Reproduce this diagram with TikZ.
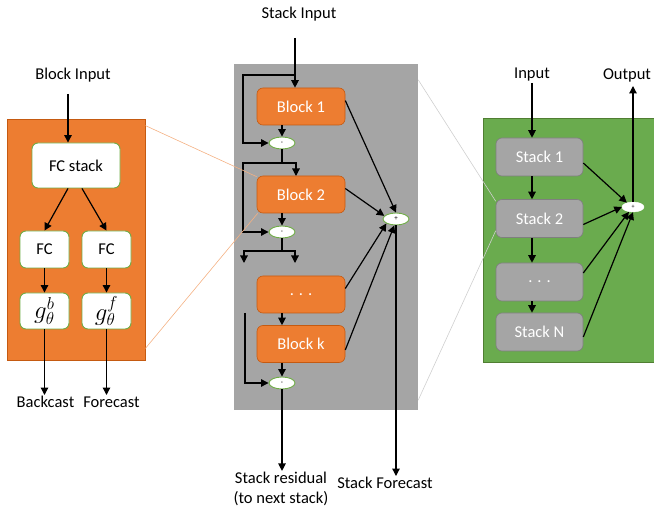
\documentclass[tikz,border=0pt]{standalone}
\usepackage{fontspec}
\setmainfont{Carlito}
\usetikzlibrary{arrows.meta,shapes.geometric}
\definecolor{orF}{HTML}{ED7D31}
\definecolor{orD}{HTML}{C55A11}
\definecolor{orL}{HTML}{F4B183}
\definecolor{grnF}{HTML}{6AAB4E}
\definecolor{grnD}{HTML}{507E32}
\definecolor{grnB}{HTML}{70AD47}
\definecolor{gryF}{HTML}{A5A5A5}
\definecolor{gryD}{HTML}{7F7F7F}
\definecolor{gryL}{HTML}{CFCFCF}
\begin{document}
\begin{tikzpicture}[x=1pt,y=-1pt,
  lab/.style={font=\fontsize{16.5}{20}\selectfont, inner sep=1pt},
  wbox/.style={draw=grnB, fill=white, rounded corners=6pt, line width=0.9pt, font=\fontsize{16.5}{18}\selectfont, inner sep=0pt},
  obox/.style={draw=orD, fill=orF, rounded corners=6pt, line width=0.6pt, text=white, font=\fontsize{16.5}{18}\selectfont, minimum width=88pt, minimum height=37pt, inner sep=0pt},
  gbox/.style={draw=gryD, fill=gryF, rounded corners=6pt, line width=0.6pt, text=white, font=\fontsize{16.5}{18}\selectfont, minimum width=87pt, minimum height=38pt, inner sep=0pt},
  op/.style={ellipse, draw=grnB, fill=white, line width=0.9pt, minimum width=26pt, minimum height=12pt, inner sep=0pt, font=\fontsize{7}{7}\selectfont},
  arr/.style={-{Triangle[length=7.5pt,width=7.5pt]}, line width=1.2pt},
  ln/.style={line width=1.2pt}
]
\useasboundingbox (0,0) rectangle (654,513);
% panels
\node[draw=orD, fill=orF, line width=0.8pt, minimum width=138pt, minimum height=241pt, inner sep=0pt] (lp) at (76,239.5) {};
\node[fill=gryF, minimum width=184pt, minimum height=346pt, inner sep=0pt] (mp) at (326,237) {};
\node[draw=grnD, fill=grnF, line width=0.8pt, minimum width=177pt, minimum height=244pt, inner sep=0pt] (rp) at (571.5,240) {};

% ---------- left block ----------
\node[lab] (bi) at (73,75) {Block Input};
\node[wbox, minimum width=88pt, minimum height=45pt] (fcs) at (76,165.5) {FC stack};
\node[wbox, minimum width=49pt, minimum height=37pt] (fcl) at (44.5,249.5) {FC};
\node[wbox, minimum width=49pt, minimum height=37pt] (fcr) at (106.5,249.5) {FC};
\node[wbox, minimum width=49pt, minimum height=36pt, font=\fontsize{24}{26}\selectfont] (gb) at (44.5,311) {$g^{b}_{\theta}$};
\node[wbox, minimum width=49pt, minimum height=36pt, font=\fontsize{24}{26}\selectfont] (gf) at (106.5,311) {$g^{f}_{\theta}$};
\node[lab] (bc) at (45.5,402) {Backcast};
\node[lab] (fc) at (111.5,402) {Forecast};
\coordinate (bia) at (68,94);
\draw[arr] (bia) -- (bia |- fcs.north);
\draw[arr] ([xshift=-8pt]fcs.south) -- (fcl.north);
\draw[arr] ([xshift=6pt]fcs.south) -- (fcr.north);
\draw[arr] (fcl.south) -- (gb.north);
\draw[arr] (fcr.south) -- (gf.north);
\draw[arr] (gb.south) -- (gb.south |- bc.north);
\draw[arr] (gf.south) -- (gf.south |- bc.north);

% ---------- middle stack ----------
\node[lab] (si) at (299,14) {Stack Input};
\node[obox] (b1) at (301,106.5) {Block 1};
\node[op] (m1) at (282,143) {-};
\node[obox] (b2) at (301,194.5) {Block 2};
\node[op] (m2) at (282,232) {-};
\node[obox] (bd) at (301,294.5) {. . .};
\node[obox] (bk) at (301,344) {Block k};
\node[op] (mk) at (282,383) {-};
\node[op] (pl) at (396,219) {+};
\node[lab, align=center] (res) at (281,489) {Stack residual\\(to next stack)};
\node[lab] (sf) at (385,483) {Stack Forecast};

\coordinate (t0) at (295,75);
\coordinate (j1) at (282,163);
\coordinate (j2) at (282,251);
\draw[arr] (295,38) -- (t0 |- b1.north);
\draw[arr] (t0) -- (243,75) -- (243,143) -- (m1.west);
\draw[arr] (b1.south -| m1) -- (m1.north);
\draw[ln] (m1.south) -- (j1);
\draw[arr] (j1) -- (296,163) -- (296,176);
\draw[arr] (j1) -- (243,163) -- (243,232) -- (m2.west);
\draw[arr] (b2.south -| m2) -- (m2.north);
\draw[ln] (m2.south) -- (j2);
\draw[arr] (j2) -- (244,251) -- (244,263);
\draw[arr] (j2) -- (295,251) -- (295,263);
\draw[arr] (bd.south -| mk) -- (bk.north -| mk);
\draw[arr] (245,313) -- (245,383) -- (mk.west);
\draw[arr] (bk.south -| mk) -- (mk.north);
\draw[arr] (mk.south) -- (mk.south |- res.north);
\draw[arr] ([yshift=6pt]b1.east) -- (pl.north);
\draw[arr] ([yshift=6pt]b2.east) -- (pl.165);
\draw[arr] ([yshift=6pt]bd.east) -- (pl.205);
\draw[arr] ([yshift=-6pt]bk.east) -- (pl.255);
\draw[arr] (pl.south) -- (pl.south |- sf.north);

% ---------- right model ----------
\node[lab] (inp) at (532,75) {Input};
\node[lab] (out) at (627,75) {Output};
\node[gbox] (s1) at (539.5,157) {Stack 1};
\node[gbox] (s2) at (539.5,218.5) {Stack 2};
\node[gbox] (sd) at (539.5,282) {. . .};
\node[gbox] (sn) at (539.5,332) {Stack N};
\node[ellipse, draw=white, fill=white, minimum width=22pt, minimum height=10pt, inner sep=0pt, font=\fontsize{6}{6}\selectfont] (q) at (633,207) {+};
\draw[arr] (inp.south) -- (inp.south |- s1.north);
\draw[arr] (s1.south -| inp) -- (s2.north -| inp);
\draw[arr] (s2.south -| inp) -- (sd.north -| inp);
\draw[arr] (sd.south -| inp) -- (sn.north -| inp);
\coordinate (oa) at (633,86);
\draw[arr] (q.north) -- (oa);
\draw[arr] ([yshift=-6pt]s1.east) -- (q.145);
\draw[arr] ([yshift=-6pt]s2.east) -- (q.180);
\draw[arr] ([yshift=9pt]sd.east) -- (q.230);
\draw[arr] ([yshift=-5pt]sn.east) -- (q.270);

% ---------- zoom lines ----------
\draw[orL, line width=0.6pt] ([yshift=-7pt]lp.north east) -- ([yshift=-1pt]b2.north west);
\draw[orL, line width=0.6pt] ([yshift=12pt]lp.south east) -- ([xshift=1pt]b2.south west);
\draw[gryL, line width=0.6pt] ([yshift=-16pt]mp.north east) -- ([yshift=-2pt]s2.north west);
\draw[gryL, line width=0.6pt] ([yshift=10pt]mp.south east) -- ([yshift=7pt]s2.south west);
\end{tikzpicture}
\end{document}
